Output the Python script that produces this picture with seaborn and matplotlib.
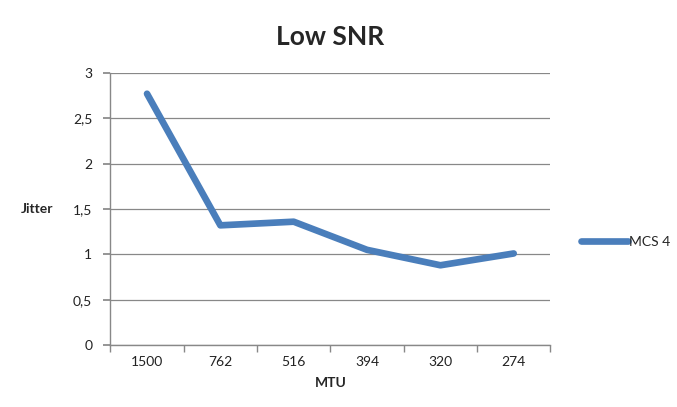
import matplotlib
matplotlib.use("Agg")
import matplotlib.pyplot as plt
import seaborn as sns
import pandas as pd
from matplotlib.ticker import FixedLocator

categories = ["1500", "762", "516", "394", "320", "274"]
mcs4 = [2.77, 1.32, 1.36, 1.05, 0.88, 1.01]
yticks = [0, 0.5, 1, 1.5, 2, 2.5, 3]
ytick_labels = ["0", "0,5", "1", "1,5", "2", "2,5", "3"]

sns.set_theme(style="white")
plt.rcParams['font.family'] = ['Lato', 'DejaVu Sans']

df = pd.DataFrame({"pos": range(len(categories)), "val": mcs4, "series": "MCS 4"})

fig = plt.figure(figsize=(6.77, 4.07), dpi=100)
ax = fig.add_axes([0.163, 0.152, 0.65, 0.669])
sns.lineplot(data=df, x="pos", y="val", hue="series", palette=["#4a7ebb"],
             linewidth=4.8, ax=ax, legend=True)

ax.set_xlim(-0.5, len(categories) - 0.5)
ax.set_ylim(0, 3)
ax.set_xticks(range(len(categories)))
ax.set_xticklabels(categories, fontsize=10, color="#222222")
ax.xaxis.set_minor_locator(FixedLocator([i - 0.5 for i in range(len(categories) + 1)]))
ax.tick_params(axis="x", which="major", length=0, pad=8)
ax.tick_params(axis="x", which="minor", length=5, color="#888888", bottom=True)
ax.set_yticks(yticks)
ax.set_yticklabels(ytick_labels, fontsize=10, color="#222222")
ax.tick_params(axis="y", length=5, color="#888888", left=True, pad=8)
ax.yaxis.grid(True, color="#888888", linewidth=0.9)
for s in ["top", "right"]:
    ax.spines[s].set_visible(False)
for s in ["left", "bottom"]:
    ax.spines[s].set_color("#888888")
    ax.spines[s].set_linewidth(1.0)

ax.set_xlabel("MTU", fontsize=10, fontweight="bold", labelpad=6)
ax.set_ylabel("Jitter", fontsize=10, fontweight="bold", rotation=0, labelpad=26, va="center")
ax.set_title("Low SNR", fontsize=19, fontweight="bold", pad=20)

leg = ax.legend(loc="center left", bbox_to_anchor=(1.04, 0.38), frameon=False,
                fontsize=10, handlelength=3.4, handletextpad=0.1)
leg.get_title().set_visible(False)

fig.savefig("out.png", dpi=100)
